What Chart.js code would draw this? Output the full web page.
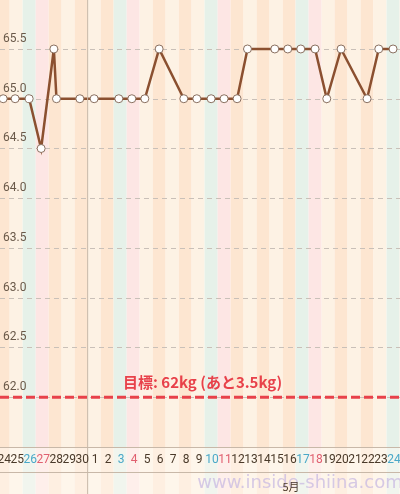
<!DOCTYPE html>
<html>
<head>
<meta charset="utf-8">
<script src="https://cdn.jsdelivr.net/npm/chart.js@4"></script>
<style>
  body { margin: 0; background: #fff; }
  #wrap { width: 400px; height: 494px; position: relative; }
</style>
</head>
<body>
<div id="wrap"><canvas id="myChart" width="400" height="494"></canvas></div>
<script>
// day labels (April 24-30, May 1-24)
const dayLabels = ['24','25','26','27','28','29','30','1','2','3','4','5','6','7','8','9','10','11','12','13','14','15','16','17','18','19','20','21','22','23','24'];
// kind of each day: 0 = weekday, 1 = saturday (blue), 2 = sunday (pink)
const dayKinds = [0,0,1,2,0,0,0,0,0,1,2,0,0,0,0,0,1,2,0,0,0,0,0,1,2,0,0,0,0,0,1];
// weight readings: position on the day axis and kg
const weighDays = [0,0.92,2,2.92,3.9,4.1,5.9,7,8.9,9.9,10.9,12,13.9,14.9,16,17,18,18.8,20.9,21.9,22.9,24,24.9,26,28,28.9,30];
const weights =   [65,65,65,64.5,65.5,65,65,65,65,65,65,65.5,65,65,65,65,65,65.5,65.5,65.5,65.5,65.5,65,65.5,65,65.5,65.5];
const goal = 62;
const yTicks = [62,62.5,63,63.5,64,64.5,65,65.5];

let stripePlugin = {
    id: 'stripes',
    beforeDraw(chart) {
        let ctx = chart.ctx, x = chart.scales.x, y = chart.scales.y;
        let bottom = chart.height;
        for (let i = -1; i <= dayLabels.length; i++) {
            let l = x.getPixelForValue(i - 0.5), r = x.getPixelForValue(i + 0.5);
            let k = dayKinds[i] || 0;
            let c = (i + 2) % 2 ? '#fdf2e4' : '#fde6d1';
            if (k == 1) c = '#e6f1e9';
            if (k == 2) c = '#fde6e4';
            ctx.fillStyle = c;
            ctx.fillRect(l, 0, r - l, bottom);
        }
        ctx.fillStyle = 'rgba(255,250,245,0.45)';
        ctx.fillRect(0, chart.chartArea.bottom, chart.width, chart.height);
        // dashed grid
        ctx.save();
        ctx.strokeStyle = '#c9c0b8';
        ctx.lineWidth = 1;
        ctx.setLineDash([5, 4]);
        yTicks.forEach(v => {
            let py = Math.round(y.getPixelForValue(v)) + 0.5;
            ctx.beginPath();
            ctx.moveTo(0, py); ctx.lineTo(chart.width, py);
            ctx.stroke();
        });
        ctx.restore();
    },
    afterDatasetsDraw(chart) {
        let ctx = chart.ctx, x = chart.scales.x, y = chart.scales.y;
        let a = chart.chartArea;
        ctx.save();
        // axis lines
        ctx.strokeStyle = '#c8b8a8';
        ctx.lineWidth = 1;
        ctx.beginPath();
        ctx.moveTo(0, a.bottom + 0.5); ctx.lineTo(chart.width, a.bottom + 0.5);
        ctx.moveTo(0, a.bottom + 25.5); ctx.lineTo(chart.width, a.bottom + 25.5);
        let mx = x.getPixelForValue(6.5);
        ctx.moveTo(mx, 0); ctx.lineTo(mx, chart.height);
        ctx.stroke();
        // day labels
        ctx.font = '12px Roboto';
        ctx.textAlign = 'center';
        ctx.textBaseline = 'middle';
        dayLabels.forEach((l, i) => {
            ctx.fillStyle = ['#4a3a2a', '#4aa8c8', '#e06070'][dayKinds[i]];
            ctx.fillText(l, x.getPixelForValue(i) + 1, a.bottom + 13);
        });
        // goal line
        let gy = y.getPixelForValue(goal);
        ctx.strokeStyle = '#e8414a';
        ctx.lineWidth = 3;
        ctx.setLineDash([9, 4]);
        ctx.beginPath();
        ctx.moveTo(0, gy); ctx.lineTo(chart.width, gy);
        ctx.stroke();
        ctx.setLineDash([]);
        ctx.fillStyle = '#e8414a';
        ctx.font = 'bold 15px "Noto Sans CJK JP"';
        ctx.textAlign = 'left';
        ctx.fillText('目標: 62kg (あと3.5kg)', 123, gy - 15);
        // watermark + month label
        ctx.textAlign = 'center';
        ctx.fillStyle = 'rgba(200,185,225,0.75)';
        ctx.font = '18px "DejaVu Sans"';
        ctx.fillText('www.inside-shiina.com', 300, a.bottom + 36);
        ctx.fillStyle = '#4a3a2a';
        ctx.font = '11px "Noto Sans CJK JP"';
        ctx.fillText('5月', 291, a.bottom + 40);
        ctx.restore();
    }
};

let ctx = document.getElementById('myChart').getContext('2d');
let myChart = new Chart(ctx, {
    type: 'scatter',
    data: {
        datasets: [{
            data: weighDays.map((d, i) => ({ x: d, y: weights[i] })),
            showLine: true,
            clip: false,
            borderColor: '#8b5030',
            borderWidth: 2.5,
            pointBackgroundColor: '#ffffff',
            pointBorderColor: '#8a7060',
            pointBorderWidth: 1,
            pointRadius: 4
        }]
    },
    options: {
        responsive: false,
        animation: false,
        layout: { padding: { bottom: 22 } },
        plugins: { legend: { display: false }, tooltip: { enabled: false } },
        scales: {
            x: {
                type: 'linear',
                min: 0.14, max: 30.15,
                afterFit: s => { s.height = 25; },
                grid: { display: false },
                border: { display: false },
                ticks: { display: false }
            },
            y: {
                min: 61.5, max: 65.94,
                afterFit: s => { s.width = 0; },
                afterBuildTicks: s => { s.ticks = yTicks.map(v => ({ value: v })); },
                border: { display: false },
                grid: { display: false },
                ticks: {
                    autoSkip: false,
                    mirror: true, labelOffset: -10, padding: -2,
                    color: '#6a5a4a',
                    font: { size: 12, family: 'Roboto' },
                    callback: v => v.toFixed(1)
                }
            }
        }
    },
    plugins: [stripePlugin]
});
</script>
</body>
</html>
